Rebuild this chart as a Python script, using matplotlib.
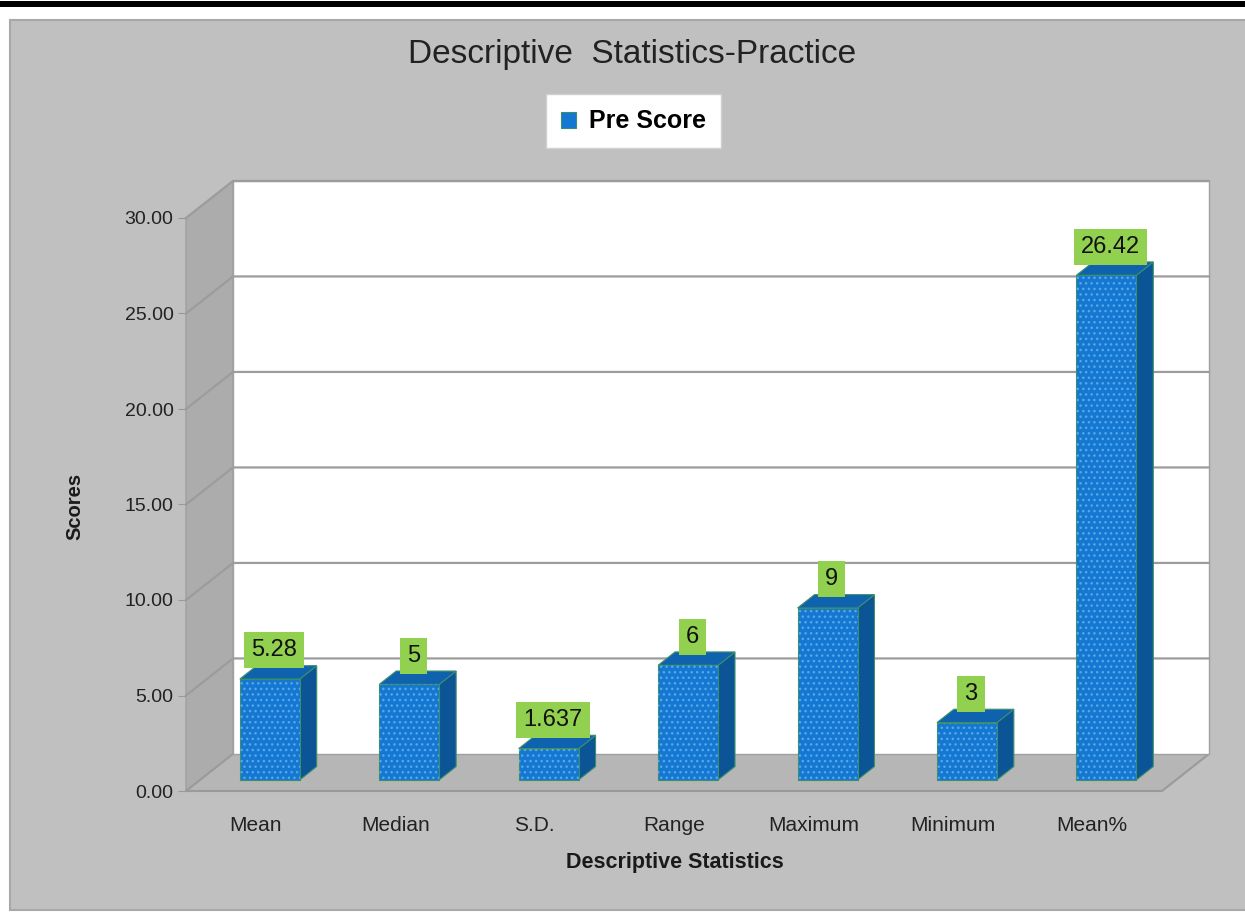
import matplotlib
matplotlib.use("Agg")
import matplotlib.pyplot as plt
from matplotlib.patches import Polygon, Rectangle

categories = ["Mean", "Median", "S.D.", "Range", "Maximum", "Minimum", "Mean%"]
pre_score = [5.28, 5, 1.637, 6, 9, 3, 26.42]
value_labels = ["5.28", "5", "1.637", "6", "9", "3", "26.42"]
y_ticks = [0, 5, 10, 15, 20, 25, 30]

plt.rcParams["font.family"] = ["Liberation Sans", "DejaVu Sans"]
plt.rcParams["hatch.linewidth"] = 1.0

# fake 3d: depth of the chart box in data units, bar front/back depth fractions
DX, DY = 0.337, 1.94
F1, F2 = 0.30, 0.66
W = 0.43
FRONT, SIDE, TOP, EDGE = "#1478d2", "#0b5596", "#0e62ae", "#3a8f6a"


def main() -> None:
    fig = plt.figure(figsize=(12.45, 9.13), dpi=100, facecolor="white")
    fig.patches.append(Rectangle((10 / 1245, 3 / 913), 1.0, 890 / 913, transform=fig.transFigure,
                                 facecolor="#c0c0c0", edgecolor="#a8a8a8", linewidth=1.5, zorder=-2))
    fig.patches.append(Rectangle((0, 906 / 913), 1.0, 6 / 913, transform=fig.transFigure,
                                 facecolor="black", edgecolor="none", zorder=-2))

    ax = fig.add_axes([186 / 1245, 122 / 913, 976 / 1245, 573 / 913])
    ax.set_facecolor("none")
    n = len(categories)
    x0, x1 = -0.5, n - 0.5
    ymax = y_ticks[-1]
    ax.set_xlim(x0, x1)
    ax.set_ylim(0, ymax)

    # walls and floor
    ax.add_patch(Polygon([(x0, 0), (x0 + DX, DY), (x0 + DX, ymax + DY), (x0, ymax)], closed=True,
                         facecolor="#acacac", edgecolor="#a0a0a0", lw=1, clip_on=False, zorder=1))
    ax.add_patch(Polygon([(x0, 0), (x1, 0), (x1 + DX, DY), (x0 + DX, DY)], closed=True,
                         facecolor="#b6b6b6", edgecolor="#9a9a9a", lw=1.5, clip_on=False, zorder=1))
    ax.add_patch(Rectangle((x0 + DX, DY), x1 - x0, ymax, facecolor="white", edgecolor="#a0a0a0",
                           lw=1, clip_on=False, zorder=1))
    for v in y_ticks[1:]:
        ax.plot([x0, x0 + DX, x1 + DX], [v, v + DY, v + DY], color="#9c9c9c", lw=1.6,
                clip_on=False, zorder=2)

    # bars: front face from ax.bar, side and top as polygons
    xs = [i + F1 * DX for i in range(n)]
    base = F1 * DY
    ddx, ddy = (F2 - F1) * DX, (F2 - F1) * DY
    bars = ax.bar(xs, pre_score, width=W, bottom=base, color=FRONT, edgecolor=EDGE, lw=0.8,
                  zorder=4, label="Pre Score", clip_on=False)
    ax.bar(xs, pre_score, width=W, bottom=base, color="none", edgecolor="#5aa6e6", lw=0,
           hatch="...", zorder=4, clip_on=False)
    for x, v, lab in zip(xs, pre_score, value_labels):
        xl, xr, yt = x - W / 2, x + W / 2, base + v
        ax.add_patch(Polygon([(xr, base), (xr + ddx, base + ddy), (xr + ddx, yt + ddy), (xr, yt)],
                             closed=True, facecolor=SIDE, edgecolor=EDGE, lw=0.8, zorder=3,
                             clip_on=False))
        ax.add_patch(Polygon([(xl, yt), (xr, yt), (xr + ddx, yt + ddy), (xl + ddx, yt + ddy)],
                             closed=True, facecolor=TOP, edgecolor=EDGE, lw=0.8, zorder=3,
                             clip_on=False))
        ax.text(x + 0.03, yt + 1.5, lab, ha="center", va="center", fontsize=17, color="#111111",
                zorder=6, bbox=dict(boxstyle="square,pad=0.3", facecolor="#92d050", edgecolor="none"))

    for s in ax.spines.values():
        s.set_visible(False)
    ax.set_yticks(y_ticks)
    ax.set_yticklabels([f"{v:.2f}" for v in y_ticks])
    ax.set_xticks(range(n))
    ax.set_xticklabels(categories)
    ax.tick_params(axis="y", length=6, color="#999999", labelsize=14, pad=3, labelcolor="#222222")
    ax.tick_params(axis="x", length=0, labelsize=15, pad=18, labelcolor="#222222")

    ax.set_xlabel("Descriptive Statistics", fontsize=15.5, fontweight="bold", color="#1a1a1a")
    ax.xaxis.set_label_coords(0.501, -0.1065)
    ax.set_ylabel("Scores", fontsize=14.5, fontweight="bold", color="#1a1a1a")
    ax.yaxis.set_label_coords(-0.1045, 0.497)

    fig.text(0.508, 0.94, "Descriptive  Statistics-Practice", ha="center", va="center",
             fontsize=24, color="#222222")
    leg = fig.legend(handles=[bars], labels=["Pre Score"], loc="center", bbox_to_anchor=(0.509, 0.867),
                     prop={"weight": "bold", "size": 18}, frameon=True, fancybox=False, framealpha=1,
                     handlelength=0.6, handleheight=0.6, handletextpad=0.5, borderpad=0.6)
    leg.get_frame().set_facecolor("white")
    leg.get_frame().set_edgecolor("#d0d0d0")

    fig.savefig("out.png", dpi=100)


if __name__ == "__main__":
    main()
